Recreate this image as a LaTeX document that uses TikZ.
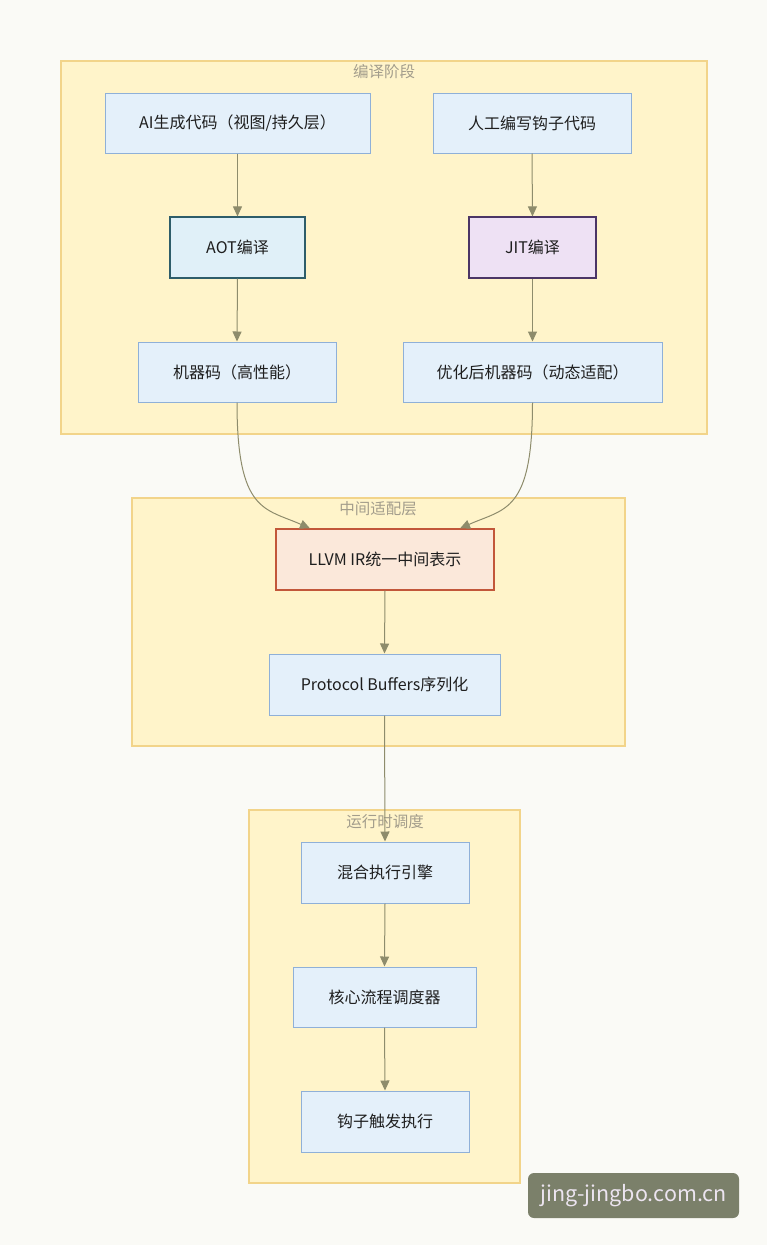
\documentclass[tikz,border=0pt]{standalone}
\usepackage{fontspec}
\setmainfont{Noto Sans CJK SC}
\usetikzlibrary{arrows.meta}
\definecolor{bgc}{HTML}{FAFAF6}
\definecolor{clfill}{HTML}{FFF4CA}
\definecolor{cldraw}{HTML}{F2D48A}
\definecolor{nfill}{HTML}{E4F0FA}
\definecolor{ndraw}{HTML}{8FB0D8}
\definecolor{aotfill}{HTML}{E0F0F8}
\definecolor{aotdraw}{HTML}{2E5D6A}
\definecolor{jitfill}{HTML}{EEE1F4}
\definecolor{jitdraw}{HTML}{4B3566}
\definecolor{llfill}{HTML}{FBE8DA}
\definecolor{lldraw}{HTML}{C2573A}
\definecolor{edgec}{HTML}{8E8C6C}
\definecolor{titc}{HTML}{A39D8C}
\definecolor{txtc}{HTML}{1E1E1E}
\definecolor{wmfill}{HTML}{7B806A}
\definecolor{wmtext}{HTML}{ECE4F0}
\tikzset{
  cluster/.style={draw=cldraw, fill=clfill, line width=1.2pt},
  ctitle/.style={text=titc, font=\fontsize{15.5}{18}\selectfont, inner sep=0pt},
  box/.style={draw=ndraw, fill=nfill, line width=1pt, text=txtc, font=\fontsize{16}{19}\selectfont, inner sep=0pt, anchor=center},
  aotbox/.style={box, draw=aotdraw, fill=aotfill, line width=1.2pt},
  jitbox/.style={box, draw=jitdraw, fill=jitfill, line width=1.2pt},
  llbox/.style={box, draw=lldraw, fill=llfill, line width=1.2pt},
  arr/.style={draw=edgec, line width=1pt, -{Triangle[length=10pt,width=9pt,fill=edgec]}},
}
\begin{document}
\begin{tikzpicture}[x=1pt, y=-1pt]
\useasboundingbox (0,0) rectangle (767,1245);
\fill[bgc] (0,0) rectangle (767,1245);
% clusters
\draw[cluster] (61,61) rectangle (707,434);
\node[ctitle] (t1) at (384,72) {编译阶段};
\draw[cluster] (132,498) rectangle (625,746);
\node[ctitle] (t2) at (378,509) {中间适配层};
\draw[cluster] (249,810) rectangle (520,1183);
\node[ctitle] (t3) at (385,822) {运行时调度};
% nodes
\node[box, minimum width=265pt, minimum height=60pt] (ai) at (237.5,123) {AI生成代码（视图/持久层）};
\node[box, minimum width=198pt, minimum height=60pt] (hk) at (532,123) {人工编写钩子代码};
\node[aotbox, minimum width=135pt, minimum height=61pt] (aot) at (237.5,247.5) {AOT编译};
\node[jitbox, minimum width=127pt, minimum height=61pt] (jit) at (532.5,247.5) {JIT编译};
\node[box, minimum width=198pt, minimum height=60pt] (mc) at (237,372) {机器码（高性能）};
\node[box, minimum width=259pt, minimum height=60pt] (omc) at (532.5,372) {优化后机器码（动态适配）};
\node[llbox, minimum width=218pt, minimum height=61pt] (ll) at (385,559.5) {LLVM IR统一中间表示};
\node[box, minimum width=231pt, minimum height=61pt] (pb) at (384.5,684.5) {Protocol Buffers序列化};
\node[box, minimum width=168pt, minimum height=61pt] (hx) at (385,872.5) {混合执行引擎};
\node[box, minimum width=183pt, minimum height=60pt] (hc) at (384.5,997) {核心流程调度器};
\node[box, minimum width=168pt, minimum height=61pt] (gz) at (385,1121.5) {钩子触发执行};
% edges
\draw[arr] (ai.south) -- (aot.north);
\draw[arr] (hk.south) -- (jit.north);
\draw[arr] (aot.south) -- (mc.north);
\draw[arr] (jit.south) -- (omc.north);
\coordinate (llin1) at ([xshift=-75pt]ll.north);
\coordinate (llin2) at ([xshift=75pt]ll.north);
\draw[arr] (mc.south) .. controls +(0,110) and +(-45,-20) .. (llin1);
\draw[arr] (omc.south) .. controls +(0,110) and +(45,-20) .. (llin2);
\draw[arr] (ll.south) -- (pb.north);
\draw[arr] (pb.south) -- (hx.north);
\draw[arr] (hx.south) -- (hc.north);
\draw[arr] (hc.south) -- (gz.north);
% watermark
\node[fill=wmfill, rounded corners=6pt, minimum width=211pt, minimum height=45pt, text=wmtext, font=\fontsize{21.5}{24}\selectfont, inner sep=0pt] (wm) at (633.5,1195.5) {jing-jingbo.com.cn};
\end{tikzpicture}
\end{document}
